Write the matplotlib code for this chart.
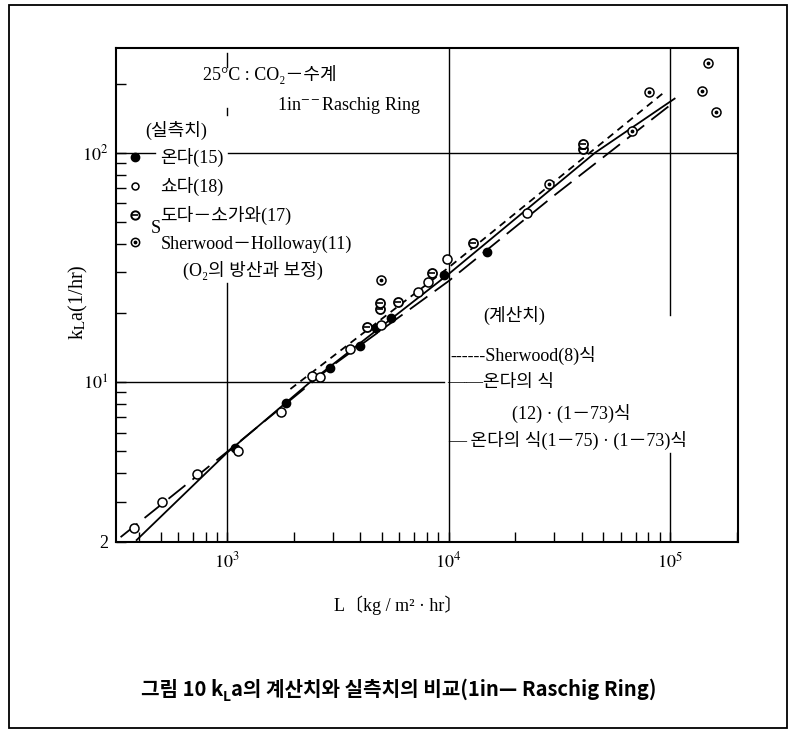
import matplotlib
matplotlib.use('Agg')
import matplotlib.pyplot as plt
from matplotlib.lines import Line2D
from matplotlib.patches import Rectangle

plt.rcParams['font.family'] = ['Liberation Serif', 'Noto Sans CJK KR', 'DejaVu Sans']
plt.rcParams['mathtext.fontset'] = 'stix'

# 실측치 (measured)
onda_L = [1090, 1850, 2900, 3970, 4720, 5470, 9530, 14900]
onda_k = [5.16, 8.07, 11.5, 14.3, 17.1, 18.9, 29.2, 36.9]

shoda_L = [380, 509, 731, 1120, 1755, 2415, 2630, 3600, 4950, 7290, 8050, 9870, 22700]
shoda_k = [2.3, 2.98, 3.95, 4.98, 7.38, 10.6, 10.5, 13.9, 17.7, 24.7, 27.3, 34.3, 54.7]

toda_L = [4260, 4900, 4900, 5900, 8440, 12900, 40300, 40300]
toda_k = [17.4, 20.7, 22.0, 22.4, 29.7, 40.2, 104, 109]

sh_L = [4950, 28400, 67300, 80500, 140000, 148000, 162000]
sh_k = [27.7, 73.3, 124, 184, 185, 247, 151]

# 계산치 (calculated)
sher_L = [1930, 10000, 94000]
sher_k = [9.3, 31.5, 183]

ondaeq_L = [390, 1000, 2380, 10000, 46000, 105000]
ondaeq_k = [2.04, 4.91, 10.0, 29.5, 100, 172]

ondaeq2_L = [330, 1000, 3000, 10000, 30000, 106000]
ondaeq2_k = [2.1, 4.95, 11.8, 27.5, 65, 168]

xticks = [1e3, 1e4, 1e5]
xticklabels = ['$10^3$', '$10^4$', '$10^5$']
yticks = [2, 10, 100]
yticklabels = ['2', '$10^1$', '$10^2$']

W, H = 795, 732


def fp(x, y):
    # pixel -> figure fraction
    return x / W, 1 - y / H


fig = plt.figure(figsize=(W / 100, H / 100), dpi=100)
ax = fig.add_axes([115.5 / W, 1 - 542 / H, 622.5 / W, 494 / H])
ax.set_xscale('log')
ax.set_yscale('log')
ax.set_xlim(313, 2.03e5)
ax.set_ylim(2, 286)

# grid (broken like the print)
gl = dict(color='k', lw=1.0, zorder=1)
ax.axvline(1e3, 0, 0.524, **gl)
ax.axvline(1e3, 0.962, 0.99, **gl)
ax.axvline(1e3, 0.864, 0.879, **gl)
ax.axvline(1e4, 0, 1, **gl)
ax.axvline(1e5, 0, 0.18, **gl)
ax.axvline(1e5, 0.46, 1, **gl)
ax.axhline(100, 0, 0.063, **gl)
ax.axhline(100, 0.181, 1, **gl)
ax.axhline(10, 0, 0.528, **gl)

# calculated lines
ax.plot(sher_L, sher_k, color='k', lw=1.3, dashes=(4, 3), zorder=2)
ax.plot(ondaeq_L, ondaeq_k, color='k', lw=1.3, zorder=2)
ax.plot(ondaeq2_L, ondaeq2_k, color='k', lw=1.3, dashes=(12, 5), zorder=2)

# measured points
ax.plot(onda_L, onda_k, 'o', ms=6, mfc='k', mec='k', zorder=4)
ax.plot(shoda_L, shoda_k, 'o', ms=6.5, mfc='white', mec='k', mew=1.1, zorder=4)
ax.plot(toda_L, toda_k, 'o', ms=6.5, mfc='white', mec='k', mew=1.3, zorder=4)
ax.plot(toda_L, toda_k, '_', ms=5, color='k', mew=1.2, zorder=5)
ax.plot(sh_L, sh_k, 'o', ms=6.5, mfc='white', mec='k', mew=1.1, zorder=4)
ax.plot(sh_L, sh_k, '.', ms=3.5, color='k', zorder=5)

ax.set_xticks(xticks)
ax.set_xticklabels(xticklabels)
ax.set_yticks(yticks)
ax.set_yticklabels(yticklabels)
ax.tick_params(which='both', direction='in', top=False, right=False, labelsize=13)
ax.tick_params(which='major', length=7, width=1.0)
ax.tick_params(which='minor', length=7, width=1.0)
ax.tick_params(axis='x', pad=7)
ax.tick_params(axis='y', pad=5)
for s in ax.spines.values():
    s.set_linewidth(1.5)

# legend for measured values
h_onda = Line2D([], [], marker='o', ls='none', ms=6, mfc='k', mec='k')
h_shoda = Line2D([], [], marker='o', ls='none', ms=5, mfc='white', mec='k', mew=1.1)
h_toda = (Line2D([], [], marker='o', ls='none', ms=6, mfc='white', mec='k', mew=1.4),
          Line2D([], [], marker='_', ls='none', ms=4.5, color='k', mew=1.2))
h_sh = (Line2D([], [], marker='o', ls='none', ms=6, mfc='white', mec='k', mew=1.1),
        Line2D([], [], marker='.', ls='none', ms=3.5, color='k'))
leg = ax.legend([h_onda, h_shoda, h_toda, h_sh],
                ['온다(15)', '쇼다(18)', '도다－소가와(17)', 'Sherwood－Holloway(11)'],
                loc='upper left', bbox_to_anchor=fp(126, 148), bbox_transform=fig.transFigure,
                frameon=False, fontsize=13, handlelength=1.0, handletextpad=0.9,
                labelspacing=0.56, borderpad=0, borderaxespad=0)

txt = dict(fontsize=13, va='center', ha='left')
fig.text(*fp(203, 75), '25°C : CO₂－수계', **txt)
fig.text(*fp(277, 105), '1in$^{--}$Raschig Ring', **txt)
fig.text(*fp(145, 130), '(실측치)', **txt)
fig.text(*fp(151, 229), 'S', fontsize=13, va='center', ha='left')
fig.text(*fp(183, 270), '(O₂의 방산과 보정)', **txt)
fig.text(*fp(483, 315), '(계산치)', **txt)
fig.text(*fp(450, 355), '------Sherwood(8)식', **txt)
fig.text(*fp(447, 383), '——온다의 식', **txt)
fig.text(*fp(512, 413), '(12) · (1－73)식', **txt)
fig.text(*fp(448, 440), '— 온다의 식(1－75) · (1－73)식', **txt)

fig.text(*fp(398, 605), 'L〔kg / m² · hr〕', fontsize=13, ha='center', va='center')
fig.text(*fp(78, 302), 'k$_\\mathrm{L}$a(1/hr)', fontsize=14.5, ha='center', va='center',
         rotation=90)

# caption, built from pieces so the subscript L works with Korean text
cap = dict(fontsize=14.5, fontweight='bold', family=['Noto Sans CJK KR', 'DejaVu Sans'])
t1 = fig.text(*fp(141, 700), '그림 10 k', va='bottom', ha='left', **cap)
t2 = ax.annotate('L', xy=(1, 0), xycoords=t1, xytext=(0, -3), textcoords='offset points',
                 va='bottom', ha='left', fontsize=10, fontweight='bold',
                 family=['Noto Sans CJK KR', 'DejaVu Sans'], annotation_clip=False)
ax.annotate('a의 계산치와 실측치의 비교(1in— Raschig Ring)', xy=(1, 0), xycoords=(t2, t1),
            va='bottom', ha='left', annotation_clip=False, **cap)

fig.add_artist(Rectangle(fp(9, 728), 778 / W, 723 / H, transform=fig.transFigure,
                         fill=False, lw=1.3, color='k'))

fig.savefig('out.png', dpi=100)
